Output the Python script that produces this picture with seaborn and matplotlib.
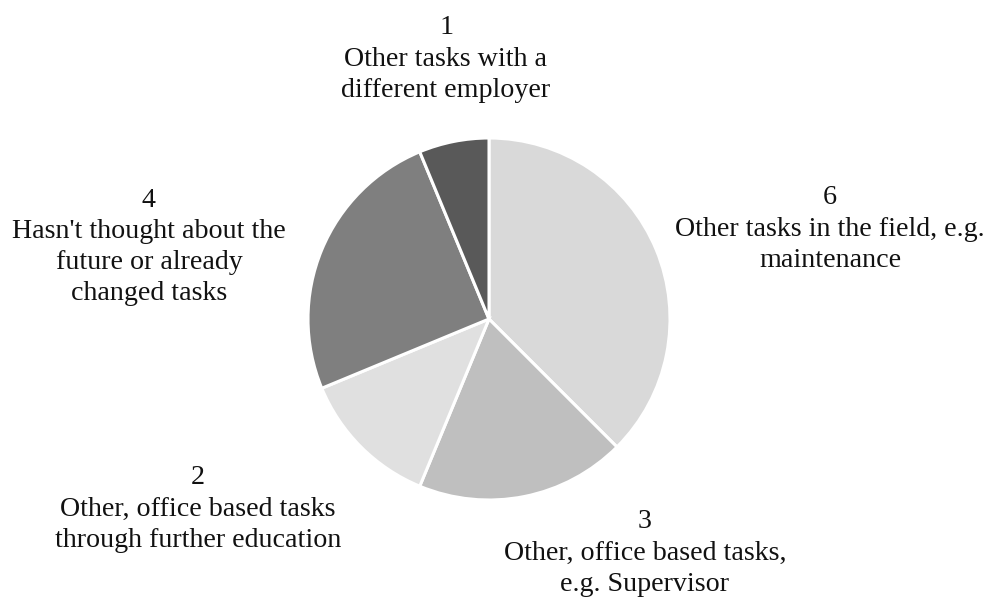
import matplotlib
matplotlib.use("Agg")
import matplotlib.pyplot as plt
import seaborn as sns

# Answers about future work, in drawing order (clockwise from 12 o'clock)
categories = [
    "Other tasks in the field, e.g.\nmaintenance",
    "Other, office based tasks,\ne.g. Supervisor",
    "Other, office based tasks\nthrough further education",
    "Hasn't thought about the\nfuture or already\nchanged tasks",
    "Other tasks with a\ndifferent employer",
]
counts = [6, 3, 2, 4, 1]
slice_colors = ["#d9d9d9", "#bfbfbf", "#e0e0e0", "#7f7f7f", "#595959"]

# Label anchor points in figure pixels (x right, y down)
label_xy = [(830, 229), (645, 553), (198, 509), (149, 247), (446, 59)]

W, H = 989, 600
sns.set_theme(style="white")
plt.rcParams["font.family"] = ["Liberation Serif", "DejaVu Serif"]

fig = plt.figure(figsize=(W / 100, H / 100), dpi=100)
ax = fig.add_axes([0, 0, 1, 1])

cx, cy, r = 489, H - 319, 181
ax.pie(
    counts,
    colors=sns.color_palette(slice_colors),
    startangle=90,
    counterclock=False,
    center=(cx, cy),
    radius=r,
    wedgeprops=dict(edgecolor="white", linewidth=2.2),
)

for (x, y), cat, n in zip(label_xy, categories, counts):
    ax.text(x, H - y, f"{n}\n{cat}", ha="center", va="center",
            multialignment="center", fontsize=20.2, color="#111111",
            linespacing=1.32)

ax.set_xlim(0, W)
ax.set_ylim(0, H)
ax.set_aspect("equal")
ax.axis("off")

fig.savefig("out.png", dpi=100, facecolor="white")
